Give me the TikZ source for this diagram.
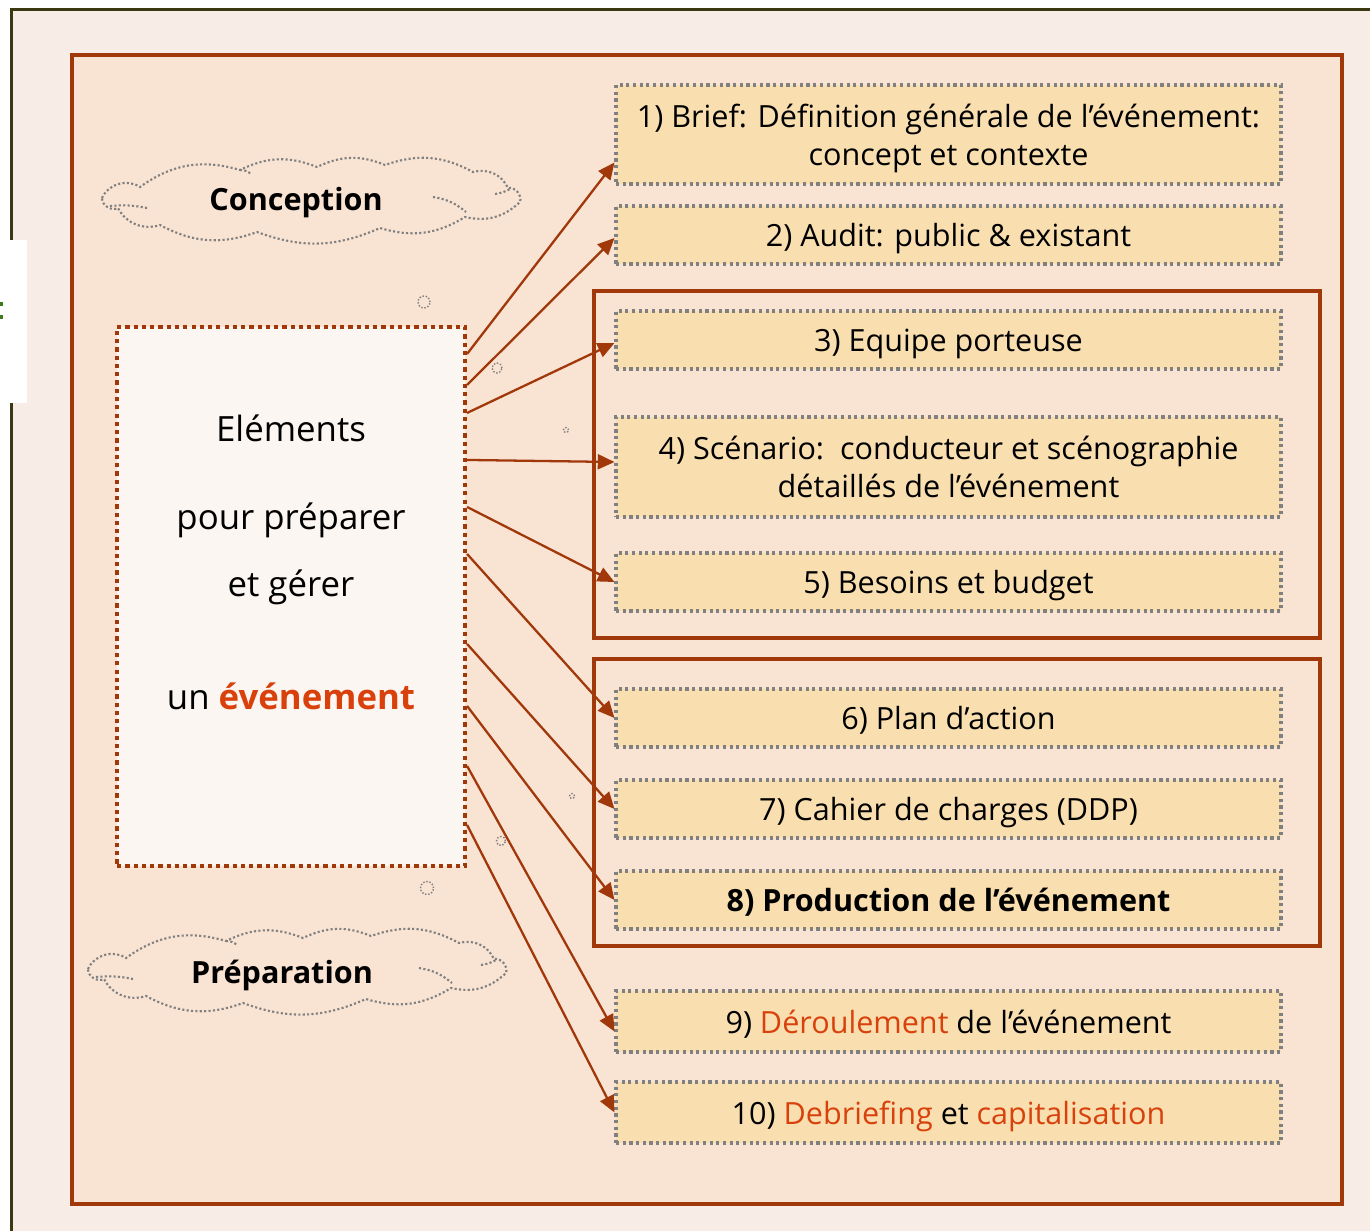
\documentclass[tikz,border=0pt]{standalone}
\usepackage{fontspec}
\setmainfont{Open Sans}
\usepackage{tikz}
\usetikzlibrary{shapes,arrows.meta,calc}
\definecolor{pagebg}{HTML}{F7ECE6}
\definecolor{olive}{HTML}{3A3912}
\definecolor{peach}{HTML}{F9E3D3}
\definecolor{brick}{HTML}{A0380A}
\definecolor{boxfill}{HTML}{F9DFB0}
\definecolor{paper}{HTML}{FCF6F2}
\definecolor{hot}{HTML}{D9410C}
\definecolor{dotgray}{HTML}{808080}
\definecolor{leafgreen}{HTML}{3F7A1C}
\newcommand{\bxfont}{\fontsize{17.4}{21.8}\selectfont}
\newcommand{\bigfont}{\fontsize{19.8}{24}\selectfont}
\tikzstyle{line} = [draw=brick, line width=1.3pt, -{Triangle[length=9.5pt,width=8.5pt]}]
\tikzstyle{block} = [draw=dotgray, fill=boxfill, line width=1.8pt, dash pattern=on 1.8pt off 2pt, text centered, align=center, text depth=0pt, minimum width=13.3cm, minimum height=1.16cm, inner sep=0pt, font=\bxfont]
\tikzstyle{cloudline} = [draw=dotgray, line width=1.2pt, dash pattern=on 1.2pt off 1.3pt]
\tikzstyle{group} = [draw=brick, line width=2pt]
\tikzstyle{bubble} = [draw=dotgray, circle, line width=0.8pt, dash pattern=on 0.8pt off 1pt, inner sep=0pt]
\tikzstyle{words} = [font=\bigfont, inner sep=0pt, anchor=base]
\tikzset{thought/.pic={
    \draw[cloudline] (-209,-2) to[bend left=50] (-171,-13) to[bend left=26] (-71,-30)
        to[bend left=24] (6,-33) to[bend left=24] (74,-35) to[bend left=24] (162,-28)
        to[bend left=40] (197,-12) to[bend left=60] (209,2) to[bend left=28] (154,17)
        to[bend left=24] (69,28) to[bend left=22] (-54,32) to[bend left=24] (-151,25)
        to[bend left=40] (-193,8) to[bend left=60] cycle;
    \draw[cloudline] (-201,6) to[bend left=8] (-164,8);
    \draw[cloudline] (122,-3) to[bend left=15] (155,12);
    \draw[cloudline] (184,-6) to[bend right=10] (199,-11);
    \draw[cloudline] (-71,-30) to[bend left=20] (-60,-26);
}}

\begin{document}
\begin{tikzpicture}[x=0.02cm, y=-0.02cm]
        \clip (0,0) rectangle (1370,1231);
        % slide background and frames
        \fill[white] (0,0) rectangle (1370,1231);
        \draw[olive, fill=pagebg, line width=2pt] (11.5,9.5) rectangle (1420,1280);
        \fill[white] (0,240) rectangle (27,403);
        \fill[leafgreen] (0,302) rectangle (3,306);
        \fill[leafgreen] (0,315) rectangle (3,319);
        \draw[brick, fill=peach, line width=2pt] (72,55) rectangle (1342,1204);
        % clouds
        \pic at (311,200) {thought};
        \node[font=\bxfont\bfseries] (concept) at (296,203) {Conception};
        \pic at (297,971) {thought};
        \node[font=\bxfont\bfseries] (prep) at (282,975) {Préparation};
        \node[bubble, minimum size=0.24cm] (bub1) at (424,302) {};
        \node[bubble, minimum size=0.2cm] (bub2) at (497,368) {};
        \node[bubble, minimum size=0.1cm] (bub3) at (566,430) {};
        \node[bubble, minimum size=0.26cm] (bub4) at (427,888) {};
        \node[bubble, minimum size=0.18cm] (bub5) at (501,841) {};
        \node[bubble, minimum size=0.1cm] (bub6) at (572,796) {};
        % left box
        \node[draw=brick, fill=paper, line width=2.4pt, dash pattern=on 2.4pt off 2.3pt, minimum width=6.96cm, minimum height=10.78cm] (elem) at (291,596.5) {};
        \node[words] (w1) at (291,441) {Eléments};
        \node[words] (w2) at (291,529) {pour préparer};
        \node[words] (w3) at (291,596) {et gérer};
        \node[words] (w4) at (291,709) {un \textcolor{hot}{\bfseries événement}};
        % groups
        \draw[group] (594,291) rectangle (1320,638);
        \draw[group] (594,659) rectangle (1320,946);
        % steps
        \node[block, minimum height=1.98cm] (b1) at (948.5,134.5) {1) Brief: Définition générale de l’événement:\\concept et contexte};
        \node[block] (b2) at (948.5,235) {2) Audit: public \& existant};
        \node[block] (b3) at (948.5,340) {3) Equipe porteuse};
        \node[block, minimum height=2cm] (b4) at (948.5,467) {4) Scénario:\ \ conducteur et scénographie\\détaillés de l’événement};
        \node[block] (b5) at (948.5,582) {5) Besoins et budget};
        \node[block] (b6) at (948.5,718) {6) Plan d’action};
        \node[block] (b7) at (948.5,809) {7) Cahier de charges (DDP)};
        \node[block, font=\bxfont\bfseries] (b8) at (948.5,900) {8) Production de l’événement};
        \node[block, minimum height=1.22cm] (b9) at (948.5,1021.5) {9) \textcolor{hot}{Déroulement} de l’événement};
        \node[block, minimum height=1.22cm] (b10) at (948.5,1112.5) {10) \textcolor{hot}{Debriefing} et \textcolor{hot}{capitalisation}};
        % arrows
        \path[line] ($(elem.north east)+(0,29)$) -- ($(b1.west)+(0,28)$);
        \path[line] ($(elem.north east)+(0,60)$) -- ($(b2.west)+(0,3)$);
        \path[line] ($(elem.north east)+(0,88)$) -- ($(b3.west)+(0,3)$);
        \path[line] ($(elem.north east)+(0,135)$) -- ($(b4.west)+(0,-5)$);
        \path[line] ($(elem.north east)+(0,182)$) -- (b5.west);
        \path[line] ($(elem.north east)+(0,229)$) -- (b6.west);
        \path[line] ($(elem.north east)+(0,319)$) -- (b7.west);
        \path[line] ($(elem.north east)+(0,381)$) -- (b8.west);
        \path[line] ($(elem.north east)+(0,441)$) -- ($(b9.west)+(0,10)$);
        \path[line] ($(elem.north east)+(0,500)$) -- (b10.west);
    \end{tikzpicture}
\end{document}
